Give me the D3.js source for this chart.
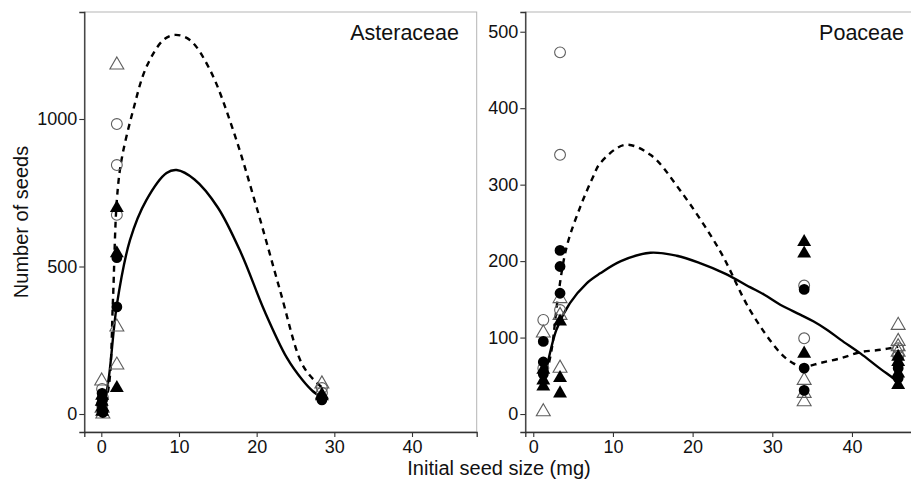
<!DOCTYPE html>
<html>
<head>
<meta charset="utf-8">
<script src="https://cdn.jsdelivr.net/npm/d3@7"></script>
<style>
  body { margin: 0; background: #fff; }
  text { font-family: "Liberation Sans", Arial, sans-serif; }
</style>
</head>
<body>
<div id="chart"></div>
<script>
// tick values
var xTicks = [0, 10, 20, 30, 40];
var astYTicks = [0, 500, 1000];
var poaYTicks = [0, 100, 200, 300, 400, 500];

// Asteraceae points [seed size, number of seeds]
var astOpenCircle = [[2.0, 983], [2.0, 844], [2.0, 675], [0.1, 85], [0.2, 55], [0.1, 30], [28.4, 88], [28.4, 72]];
var astOpenTriangle = [[2.0, 1183], [2.0, 295], [2.0, 166], [0.05, 112], [0.1, 20], [0.2, 0], [28.4, 102]];
var astFilledCircle = [[2.0, 530], [2.0, 363], [0.1, 70], [0.15, 48], [0.05, 35], [0.1, 15], [0.2, 5], [28.4, 55], [28.4, 48]];
var astFilledTriangle = [[2.0, 698], [2.0, 545], [2.0, 88], [0.1, 62], [0.05, 42], [0.15, 22], [0.1, 8], [28.4, 65], [28.4, 60]];

// Asteraceae fitted curves
var astSolid = [[0.2, 0], [1.0, 130], [2.0, 370], [3.7, 590], [5.8, 725], [8.4, 817], [9.7, 827], [12, 795], [15, 700], [18, 545], [21, 350], [23.9, 190], [25.9, 115], [27.2, 78], [28.4, 56]];
var astDashed = [[0.2, 0], [1.0, 100], [1.5, 386], [2.0, 725], [2.6, 861], [4.1, 1030], [5.8, 1176], [8.0, 1268], [9.5, 1285], [11.4, 1268], [14, 1166], [17, 960], [20, 700], [23, 420], [25.6, 183], [26.8, 132], [28.4, 90]];

// Poaceae points
var poaOpenCircle = [[1.26, 123], [1.26, 60], [3.36, 473], [3.36, 339], [3.36, 136], [34.0, 168], [34.0, 99], [45.8, 86], [45.8, 76]];
var poaOpenTriangle = [[1.26, 106], [1.26, 3], [3.36, 151], [3.36, 129], [3.36, 60], [34.0, 44], [34.0, 27], [34.0, 16], [45.8, 116], [45.8, 95], [45.8, 88], [45.8, 81]];
var poaFilledCircle = [[1.26, 95], [1.26, 68], [1.26, 52], [3.36, 214], [3.36, 193], [3.36, 158], [34.0, 163], [34.0, 60], [34.0, 31], [45.8, 60], [45.8, 47]];
var poaFilledTriangle = [[1.26, 58], [1.26, 44], [1.26, 36], [3.36, 121], [3.36, 47], [3.36, 27], [34.0, 225], [34.0, 210], [34.0, 79], [45.8, 75], [45.8, 68], [45.8, 53], [45.8, 38]];

// Poaceae fitted curves
var poaSolid = [[1.26, 45], [1.5, 53], [2.9, 110], [4.6, 145], [6.7, 171], [8.4, 184], [11, 200], [14.7, 211], [18, 207], [21, 197], [24, 184], [27.2, 166], [29, 156], [31.0, 143], [33.5, 130], [35.2, 121], [36.9, 110], [38.6, 97], [41.1, 79], [43.2, 62], [44.9, 49], [45.8, 42]];
var poaDashed = [[1.26, 40], [1.5, 47], [2.3, 84], [3.1, 153], [4.2, 219], [5.9, 271], [7.5, 310], [8.4, 328], [11.5, 352], [14.7, 339], [18.4, 293], [23.4, 214], [27.2, 136], [31, 80], [32.7, 66], [34, 62], [36.1, 67], [38.6, 73], [41.1, 81], [43.6, 84], [45.8, 88]];

var W = 911, H = 479;
var top_ = 12, bottom_ = 432, panelW = 392.4;

var svg = d3.select("#chart")
  .append("svg")
    .attr("width", W)
    .attr("height", H);

var panels = [
  {name: "Asteraceae", left: 84.3, xDomain: [-2.19, 48.33], yDomain: [-61, 1362.7], yTicks: astYTicks, titleEnd: 459,
   openCircle: astOpenCircle, openTriangle: astOpenTriangle, filledCircle: astFilledCircle, filledTriangle: astFilledTriangle,
   solid: astSolid, dashed: astDashed},
  {name: "Poaceae", left: 525.3, xDomain: [-1.0, 48.25], yDomain: [-23.5, 525.8], yTicks: poaYTicks, titleEnd: 904,
   openCircle: poaOpenCircle, openTriangle: poaOpenTriangle, filledCircle: poaFilledCircle, filledTriangle: poaFilledTriangle,
   solid: poaSolid, dashed: poaDashed}
];

panels.forEach(function(p) {
  var x = d3.scaleLinear().domain(p.xDomain).range([p.left, p.left + panelW]);
  var y = d3.scaleLinear().domain(p.yDomain).range([bottom_, top_]);

  // light border round the panel
  svg.append("rect")
    .attr("x", p.left).attr("y", top_)
    .attr("width", panelW).attr("height", bottom_ - top_)
    .attr("fill", "none")
    .attr("stroke", "#b5b5b5")
    .attr("stroke-width", 1);

  // axes
  var gx = svg.append("g")
    .attr("transform", "translate(0," + bottom_ + ")")
    .call(d3.axisBottom(x).tickValues(xTicks).tickSize(5).tickPadding(3).tickFormat(d3.format("d")));
  var gy = svg.append("g")
    .attr("transform", "translate(" + p.left + ",0)")
    .call(d3.axisLeft(y).tickValues(p.yTicks).tickSize(5).tickPadding(2).tickFormat(d3.format("d")));
  [gx, gy].forEach(function(g) {
    g.select(".domain").attr("stroke", "#333").attr("stroke-width", 1.3);
    g.selectAll(".tick line").attr("stroke", "#333").attr("stroke-width", 1.1);
    g.selectAll(".tick text").attr("fill", "#111").style("font-size", "18px");
  });

  var plot = svg.append("g");

  // fitted lines
  var line = d3.line()
    .x(function(d) { return x(d[0]) })
    .y(function(d) { return y(d[1]) })
    .curve(d3.curveCatmullRom.alpha(0.5));
  plot.append("path")
    .datum(p.dashed)
    .attr("fill", "none")
    .attr("stroke", "#000")
    .attr("stroke-width", 2.4)
    .attr("stroke-dasharray", "6,5")
    .attr("d", line);
  plot.append("path")
    .datum(p.solid)
    .attr("fill", "none")
    .attr("stroke", "#000")
    .attr("stroke-width", 2.4)
    .attr("d", line);

  // points
  var circle = d3.symbol().type(d3.symbolCircle).size(92);
  var tri = d3.symbol().type(d3.symbolTriangle).size(84);
  function pts(data, sym, filled) {
    plot.selectAll(null)
      .data(data)
      .enter().append("path")
      .attr("transform", function(d) { return "translate(" + x(d[0]) + "," + y(d[1]) + ")" })
      .attr("d", sym)
      .attr("fill", filled ? "#000" : "none")
      .attr("stroke", filled ? "none" : "#5e5e5e")
      .attr("stroke-width", 1.1);
  }
  pts(p.openTriangle, tri, false);
  pts(p.openCircle, circle, false);
  pts(p.filledTriangle, tri, true);
  pts(p.filledCircle, circle, true);

  // facet title
  svg.append("text")
    .attr("x", p.titleEnd)
    .attr("y", 40)
    .attr("text-anchor", "end")
    .style("font-size", "21.5px")
    .attr("fill", "#111")
    .text(p.name);
});

// axis titles
svg.append("text")
  .attr("transform", "translate(28,222) rotate(-90)")
  .attr("text-anchor", "middle")
  .style("font-size", "20px")
  .attr("fill", "#111")
  .text("Number of seeds");

svg.append("text")
  .attr("x", 499)
  .attr("y", 475)
  .attr("text-anchor", "middle")
  .style("font-size", "20px")
  .attr("fill", "#111")
  .text("Initial seed size (mg)");
</script>
</body>
</html>
